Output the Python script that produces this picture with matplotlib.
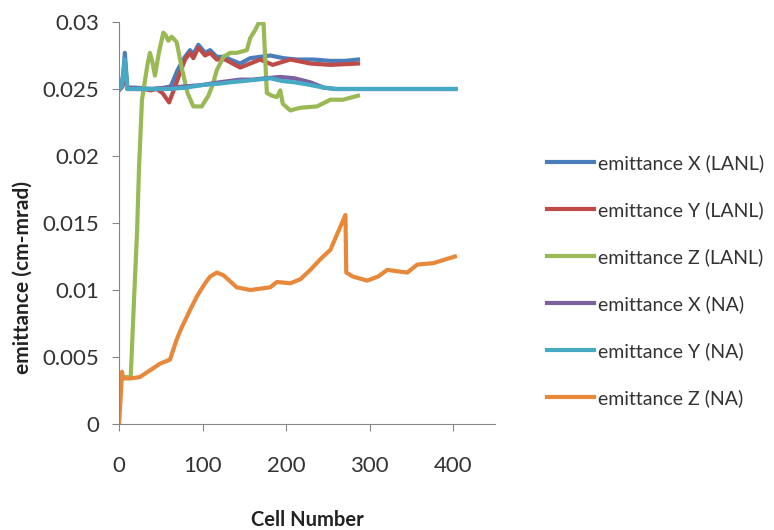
import matplotlib
matplotlib.use("Agg")
import matplotlib.pyplot as plt

plt.rcParams['font.family'] = ['Lato', 'DejaVu Sans']

# emittance X (LANL)
x_lanl_x = [0, 4, 7, 10, 20, 40, 55, 62, 70, 79, 85, 89, 95, 103, 109, 117, 127, 133,
            145, 157, 169, 181, 197, 213, 233, 253, 270, 286]
y_lanl_x = [0.0256, 0.0252, 0.0277, 0.0251, 0.0251, 0.0250, 0.0251, 0.0252, 0.0264, 0.0274,
            0.0279, 0.0276, 0.0283, 0.0277, 0.0279, 0.0274, 0.0274, 0.0272,
            0.0269, 0.0273, 0.0274, 0.0275, 0.0273, 0.0272, 0.0272, 0.0271, 0.0271, 0.0272]

# emittance Y (LANL)
x_lanl_y = [0, 4, 7, 10, 20, 30, 38, 45, 52, 60, 66, 73, 79, 85, 89, 95, 103, 109, 117,
            127, 133, 145, 157, 169, 184, 205, 229, 253, 286]
y_lanl_y = [0.0249, 0.0252, 0.0262, 0.0251, 0.0250, 0.0250, 0.0249, 0.0250, 0.0247, 0.0240,
            0.0250, 0.0262, 0.0272, 0.0277, 0.0273, 0.0281, 0.0275, 0.0277, 0.0272,
            0.0272, 0.0270, 0.0266, 0.0269, 0.0272, 0.0268, 0.0272, 0.0269, 0.0268, 0.0269]

# emittance Z (LANL)
x_lanl_z = [0, 8, 14, 18, 21.6, 24, 27.5, 30, 34, 37, 40, 43, 48, 53, 56, 59, 63, 66, 69, 75,
            82, 89, 99, 107, 112, 117, 125, 133, 141, 153, 157, 163, 167, 173, 176, 177, 183,
            189, 193, 196, 205, 217, 237, 253, 268, 286]
y_lanl_z = [0.0035, 0.0035, 0.0035, 0.0093, 0.0143, 0.0192, 0.0242, 0.0252, 0.0268, 0.0277,
            0.0270, 0.0260, 0.0278, 0.0292, 0.0290, 0.0286, 0.0289, 0.0287, 0.0285, 0.0266,
            0.0247, 0.0237, 0.0237, 0.0245, 0.0253, 0.0264, 0.0274, 0.0277, 0.0277, 0.0279,
            0.0288, 0.0294, 0.0299, 0.0299, 0.0259, 0.0247, 0.0245, 0.0244, 0.0249, 0.0239,
            0.0234, 0.0236, 0.0237, 0.0242, 0.0242, 0.0245]

# emittance X (NA)
x_na_x = [0, 3, 7, 10, 20, 40, 60, 80, 100, 120, 145, 160, 175, 193, 210, 229, 245, 260,
          280, 300, 330, 360, 403]
y_na_x = [0.0250, 0.0251, 0.0268, 0.0250, 0.0250, 0.0250, 0.0251, 0.0252, 0.0253, 0.0255,
          0.0257, 0.0257, 0.0258, 0.0259, 0.0258, 0.0255, 0.0251, 0.0250,
          0.0250, 0.0250, 0.0250, 0.0250, 0.0250]

# emittance Y (NA)
x_na_y = [0, 3, 7, 10, 20, 40, 60, 80, 100, 120, 133, 150, 165, 181, 195, 210, 229, 245,
          260, 280, 300, 330, 360, 403]
y_na_y = [0.0250, 0.0252, 0.0272, 0.0250, 0.0250, 0.0250, 0.0250, 0.0251, 0.0253, 0.0254,
          0.0255, 0.0256, 0.0257, 0.0258, 0.0256, 0.0255, 0.0253, 0.0251,
          0.0250, 0.0250, 0.0250, 0.0250, 0.0250, 0.0250]

# emittance Z (NA)
x_na_z = [0, 2, 3.6, 5, 13, 25, 37, 49, 61, 69, 75, 85, 93, 103, 109, 117, 125, 141, 157,
          169, 181, 189, 205, 217, 229, 241, 253, 262, 271, 272, 280, 297, 310, 321, 345,
          357, 376, 402]
y_na_z = [0, 0.002, 0.0039, 0.0034, 0.0034, 0.0035, 0.0040, 0.0045, 0.0048, 0.0063,
          0.0072, 0.0085, 0.0095, 0.0105, 0.0110, 0.0113, 0.0111, 0.0102, 0.0100,
          0.0101, 0.0102, 0.0106, 0.0105, 0.0108, 0.0115, 0.0123, 0.0130, 0.0143, 0.0156,
          0.0113, 0.0110, 0.0107, 0.0110, 0.0115, 0.0113, 0.0119, 0.0120, 0.0125]

labels = ["emittance X (LANL)", "emittance Y (LANL)", "emittance Z (LANL)",
          "emittance X (NA)", "emittance Y (NA)", "emittance Z (NA)"]
colors = ["#4A7EBB", "#BE4B48", "#98B954", "#7D60A0", "#46AAC5", "#E8883A"]

x_ticks = [0, 100, 200, 300, 400]
y_ticks = [0, 0.005, 0.01, 0.015, 0.02, 0.025, 0.03]
y_tick_labels = ["0", "0.005", "0.01", "0.015", "0.02", "0.025", "0.03"]

fig = plt.figure(figsize=(7.74, 5.30), dpi=100)
ax = fig.add_axes([119/774, 106/530, 376/774, 402/530])

series = [(x_lanl_x, y_lanl_x), (x_lanl_y, y_lanl_y), (x_lanl_z, y_lanl_z),
          (x_na_x, y_na_x), (x_na_y, y_na_y), (x_na_z, y_na_z)]
for (xs, ys), lab, c in zip(series, labels, colors):
    ax.plot(xs, ys, color=c, lw=3, label=lab, solid_joinstyle='round')

ax.set_xlim(0, 450)
ax.set_ylim(0, 0.03)
ax.set_xticks(x_ticks)
ax.set_yticks(y_ticks)
ax.set_yticklabels(y_tick_labels)

for s in ["top", "right"]:
    ax.spines[s].set_visible(False)
for s in ["left", "bottom"]:
    ax.spines[s].set_color("#868686")
ax.tick_params(axis="both", colors="#868686", length=5, labelsize=16, labelcolor="#333333")
ax.tick_params(axis="y", pad=9)
ax.tick_params(axis="x", pad=18)

fig.text(23/774, 1 - 277/530, "emittance (cm-mrad)", rotation=90, ha="center", va="center",
         fontsize=15, fontweight="bold", color="#222222")
fig.text(307/774, 1 - 520/530, "Cell Number", ha="center", va="center",
         fontsize=14.5, fontweight="bold", color="#222222")

fig.legend(loc="center left", bbox_to_anchor=(547/774, 1 - 280.5/530),
           bbox_transform=fig.transFigure, frameon=False, fontsize=14,
           handlelength=2.4, handletextpad=0.2, labelspacing=1.5,
           borderpad=0, borderaxespad=0, labelcolor="#333333")

fig.savefig("out.png", dpi=100)
